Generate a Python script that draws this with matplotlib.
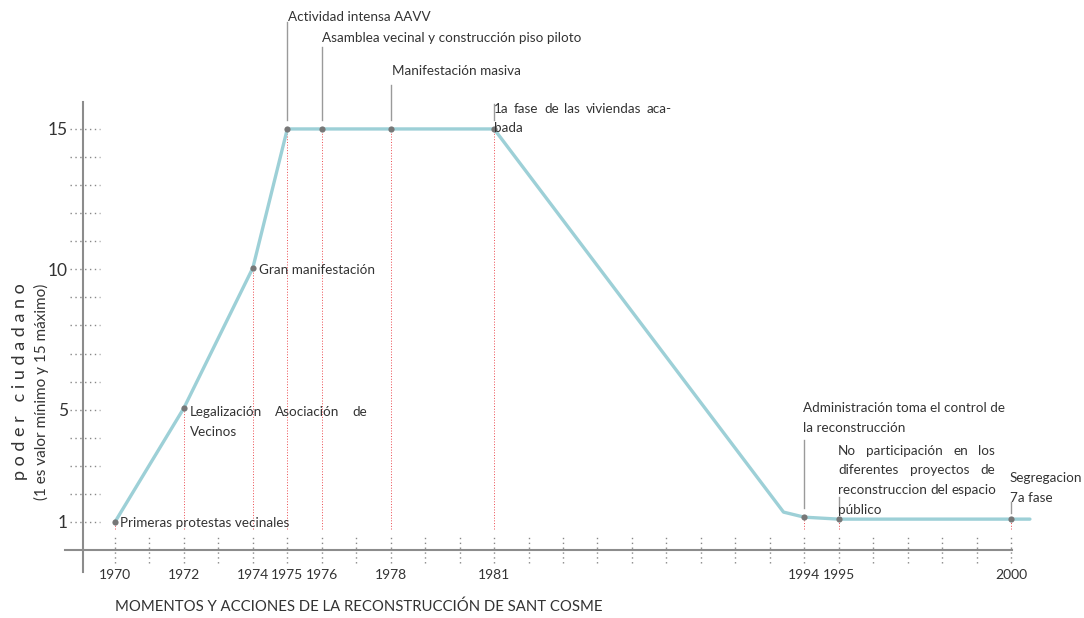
import matplotlib
matplotlib.use("Agg")
import matplotlib.pyplot as plt

plt.rcParams['font.family'] = ['Lato', 'DejaVu Sans']

# ---------------- data ----------------
years = ['1970', '1972', '1974', '1975', '1976', '1978', '1981', '1994', '1995', '2000']
year_pos = [0, 2, 4, 5, 6, 8, 11, 20, 21, 26]          # slot index on the time axis
point_vals = [1, 5.06, 10.05, 15, 15, 15, 15, 1.17, 1.1, 1.1]
n_slots = 27                                          # dotted ticks 0..26

curve_x = [0, 2, 4, 5, 6, 8, 11, 19.4, 20, 21, 26, 26.55]
curve_y = [1, 5.06, 10.05, 15, 15, 15, 15, 1.35, 1.17, 1.1, 1.1, 1.1]

ytick_vals = [1, 5, 10, 15]
ytick_labels = ['1', '5', '10', '15']
ygrid_vals = list(range(1, 16))

notes = [
    ['Primeras protestas vecinales'],
    ['Legalización Asociación de', 'Vecinos'],
    ['Gran manifestación'],
    ['Actividad intensa AAVV'],
    ['Asamblea vecinal y construcción piso piloto'],
    ['Manifestación masiva'],
    ['1a fase de las viviendas aca-', 'bada'],
    ['Administración toma el control de', 'la reconstrucción'],
    ['No participación en los', 'diferentes proyectos de',
     'reconstruccion del espacio', 'público'],
    ['Segregacion', '7a fase'],
]
xlabel = 'MOMENTOS Y ACCIONES DE LA RECONSTRUCCIÓN DE SANT COSME'
ylabel1 = 'p o d e r   c i u d a d a n o'
ylabel2 = '(1 es valor mínimo y 15 máximo)'

# ---------------- layout ----------------
W, H = 1084, 618
fig = plt.figure(figsize=(W / 100, H / 100), dpi=100)
L, R, T, B = 83, 1040, 102, 565
ax = fig.add_axes([L / W, (H - B) / H, (R - L) / W, (B - T) / H])

def px2x(px):
    return (px - 115) / 34.46

def py2y(py):
    return (550 - py) / 28.07

ax.set_xlim(px2x(L), px2x(R))
ax.set_ylim(py2y(B), py2y(T))
for s in ax.spines.values():
    s.set_visible(False)

TXT = '#333333'
AXC = '#8c8c8c'
FS = 9.7

# axes lines
ax.plot([px2x(65), px2x(1012)], [0, 0], color=AXC, lw=1.5, clip_on=False, zorder=2)
ax.plot([px2x(L), px2x(L)], [py2y(572), py2y(T)], color=AXC, lw=1.5, clip_on=False, zorder=2)

# dotted y grid ticks
ax.hlines(ygrid_vals, px2x(70), px2x(100), colors='#888888', lw=1.0,
          linestyles=(0, (1, 2.5)), clip_on=False)
# dotted x ticks
ax.vlines(range(n_slots), py2y(563), py2y(535), colors='#888888', lw=1.0,
          linestyles=(0, (1, 2.5)), clip_on=False)

# red dotted drop lines
ax.vlines(year_pos, py2y(529), point_vals, colors='#ec4a4f', lw=0.7,
          linestyles=(0, (1, 1.8)), zorder=3)

# curve
ax.plot(curve_x, curve_y, color='#9dd0d7', lw=2.4, solid_capstyle='round', zorder=4)
ax.scatter(year_pos, point_vals, s=20, color='#777777', zorder=5, linewidths=0)

# leader lines (slot index, top px, bottom px)
leaders = [(5, 22, 120), (6, 47, 120), (8, 85, 120), (11, 104, 120),
           (20, 440, 508), (21, 497, 512), (26, 502, 513)]
for xi, ytop, ybot in leaders:
    ax.plot([xi, xi], [py2y(ybot), py2y(ytop)], color='#9a9a9a', lw=1.0,
            zorder=3, clip_on=False)

# ticks
ax.set_yticks(ytick_vals, ytick_labels)
ax.set_xticks(year_pos, years)
ax.tick_params(axis='y', length=0, pad=11, labelsize=12.5, labelcolor=TXT)
ax.tick_params(axis='x', length=0, pad=3, labelsize=10, labelcolor=TXT)

# annotations
fig.canvas.draw()
rend = fig.canvas.get_renderer()

def word_w(w):
    t = ax.text(0, 0, w, fontsize=FS)
    wd = t.get_window_extent(renderer=rend).width
    t.remove()
    return wd

space_w = word_w('a a') - word_w('aa')

def place(lines, left_px, first_center_px, width_px=None, line_px=19.5):
    for i, line in enumerate(lines):
        yy = H - (first_center_px + i * line_px)
        words = line.split()
        last = i == len(lines) - 1
        if width_px is None or last or len(words) == 1:
            fig.text(left_px / W, yy / H, line, fontsize=FS, color=TXT,
                     ha='left', va='center')
            continue
        ws = [word_w(w) for w in words]
        gap = max(space_w, (width_px - sum(ws)) / (len(words) - 1))
        xx = left_px
        for w, wd in zip(words, ws):
            fig.text(xx / W, yy / H, w, fontsize=FS, color=TXT, ha='left', va='center')
            xx += wd + gap

note_layout = [
    (120, 523, None),
    (190, 412, 177),
    (259, 270, None),
    (288, 17, None),
    (322, 38, None),
    (392, 71, None),
    (494, 109, 178),
    (803, 408, None),
    (838, 451, 157),
    (1010, 478, None),
]
for lines, (lx, cy, wpx) in zip(notes, note_layout):
    place(lines, lx, cy, wpx)

# axis titles
fig.text(115 / W, 1 - 607 / H, xlabel, fontsize=10.7, color=TXT, ha='left', va='center')
fig.text(20 / W, 1 - 382 / H, ylabel1, fontsize=13, color=TXT, rotation=90,
         ha='center', va='center')
fig.text(41 / W, 1 - 392 / H, ylabel2, fontsize=11, color=TXT, rotation=90,
         ha='center', va='center')

fig.savefig('out.png', dpi=100)
